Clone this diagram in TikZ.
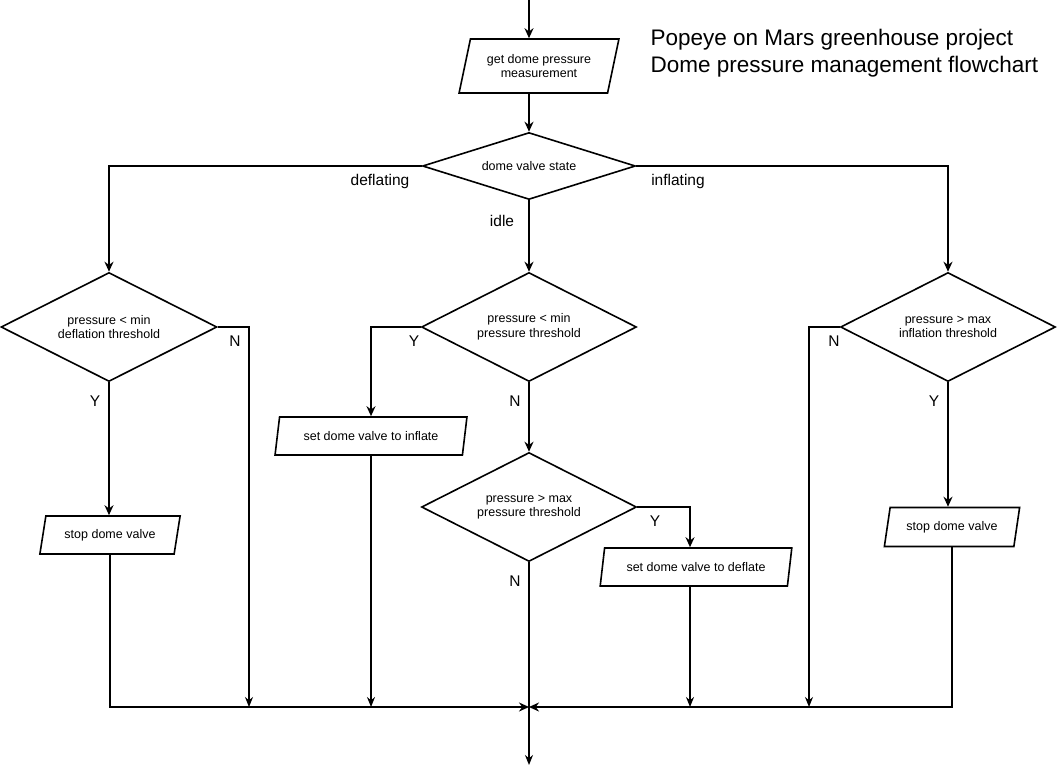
\documentclass[tikz,border=0pt]{standalone}
\usepackage{fontspec}
\setmainfont{Liberation Sans}
\usetikzlibrary{positioning, shapes.geometric, arrows.meta, calc}

\tikzset{
  decision/.style={draw, line width=1.6pt, diamond, aspect=2, inner sep=0pt, align=center, font=\fontsize{12.5}{14.5}\selectfont},
  iobox/.style={draw, line width=1.6pt, trapezium, trapezium left angle=70, trapezium right angle=110, trapezium stretches=true, inner sep=0pt, align=center, font=\fontsize{12.5}{14.5}\selectfont},
  flow/.style={-{Stealth[length=10pt,width=9pt]}, line width=2pt},
  feed/.style={-{Stealth[length=10pt,width=8pt]}, line width=1.3pt},
  lbl/.style={font=\fontsize{15.5}{17}\selectfont},
}

\begin{document}
\begin{tikzpicture}[x=1pt, y=-1pt]
          \useasboundingbox (0,0) rectangle (1058,769);

          % title
          \node[anchor=west, align=left, font=\fontsize{22.5}{27}\selectfont] (title) at (647,53) {Popeye on Mars greenhouse project\\Dome pressure management flowchart};

          % nodes (type: io / decision)
          \node[iobox, minimum width=160, minimum height=54] (getp) at (539,66) {get dome pressure\\measurement};
          \node[decision, minimum width=213, minimum height=67] (dvs) at (529,166) {dome valve state};

          \node[decision, minimum width=216, minimum height=109] (dmin1) at (109,327) {pressure < min\\deflation threshold};
          \node[decision, minimum width=215, minimum height=109] (dmin2) at (529,327) {pressure < min\\pressure threshold};
          \node[decision, minimum width=215, minimum height=109] (dmax1) at (948,327) {pressure > max\\inflation threshold};
          \node[decision, minimum width=215, minimum height=109] (dmax2) at (529,507) {pressure > max\\pressure threshold};

          \node[iobox, minimum width=141, minimum height=38] (stopl) at (110,535) {stop dome valve};
          \node[iobox, minimum width=192, minimum height=38] (setinf) at (371,436) {set dome valve to inflate};
          \node[iobox, minimum width=192, minimum height=38] (setdef) at (696,567) {set dome valve to deflate};
          \node[iobox, minimum width=136, minimum height=39] (stopr) at (952,527) {stop dome valve};

          % end points
          \coordinate (entry) at (529,0);
          \coordinate (merge) at (529,707);
          \coordinate (exit) at (529,765);
          \coordinate (n1) at (249,707);
          \coordinate (n3) at (809,707);
          \coordinate (defin) at ($(setdef.north)+(-6,0)$);
          \coordinate (defout) at ($(setdef.south)+(-6,0)$);

          % connectors
          \draw[flow] (entry) -- (entry |- getp.north);
          \draw[flow] (getp.south -| dvs.north) -- (dvs.north);
          \draw[flow] (dvs.west) -| (dmin1.north);
          \draw[flow] (dvs.east) -| (dmax1.north);
          \draw[flow] (dvs.south) -- (dmin2.north);

          \draw[flow] (dmin1.south) -- (dmin1.south |- stopl.north);
          \draw[feed] (dmin1.east) -| (n1);
          \draw[flow] (dmin2.west) -| (setinf.north);
          \draw[flow] (dmin2.south) -- (dmax2.north);
          \draw[flow] (dmax2.east) -| (defin);
          \draw[flow] (dmax1.south) -- (dmax1.south |- stopr.north);
          \draw[feed] (dmax1.west) -| (n3);

          \draw[feed] (setinf.south) -- (setinf.south |- merge);
          \draw[feed] (defout) -- (defout |- merge);
          \draw[flow] (stopl.south) |- (merge);
          \draw[flow] (stopr.south) |- (merge);
          \draw[feed] (dmax2.south) -- (exit);

          % labels
          \node[lbl] (ldef) at (380,181) {deflating};
          \node[lbl] (linf) at (678,181) {inflating};
          \node[lbl] (lidle) at (502,221) {idle};
          \node[lbl] (ln1) at (235,341) {N};
          \node[lbl] (ly1) at (95,401) {Y};
          \node[lbl] (ly2) at (414,341) {Y};
          \node[lbl] (ln2) at (515,401) {N};
          \node[lbl] (ly4) at (655,521) {Y};
          \node[lbl] (ln4) at (515,581) {N};
          \node[lbl] (ln3) at (834,341) {N};
          \node[lbl] (ly3) at (934,401) {Y};
        \end{tikzpicture}
\end{document}
